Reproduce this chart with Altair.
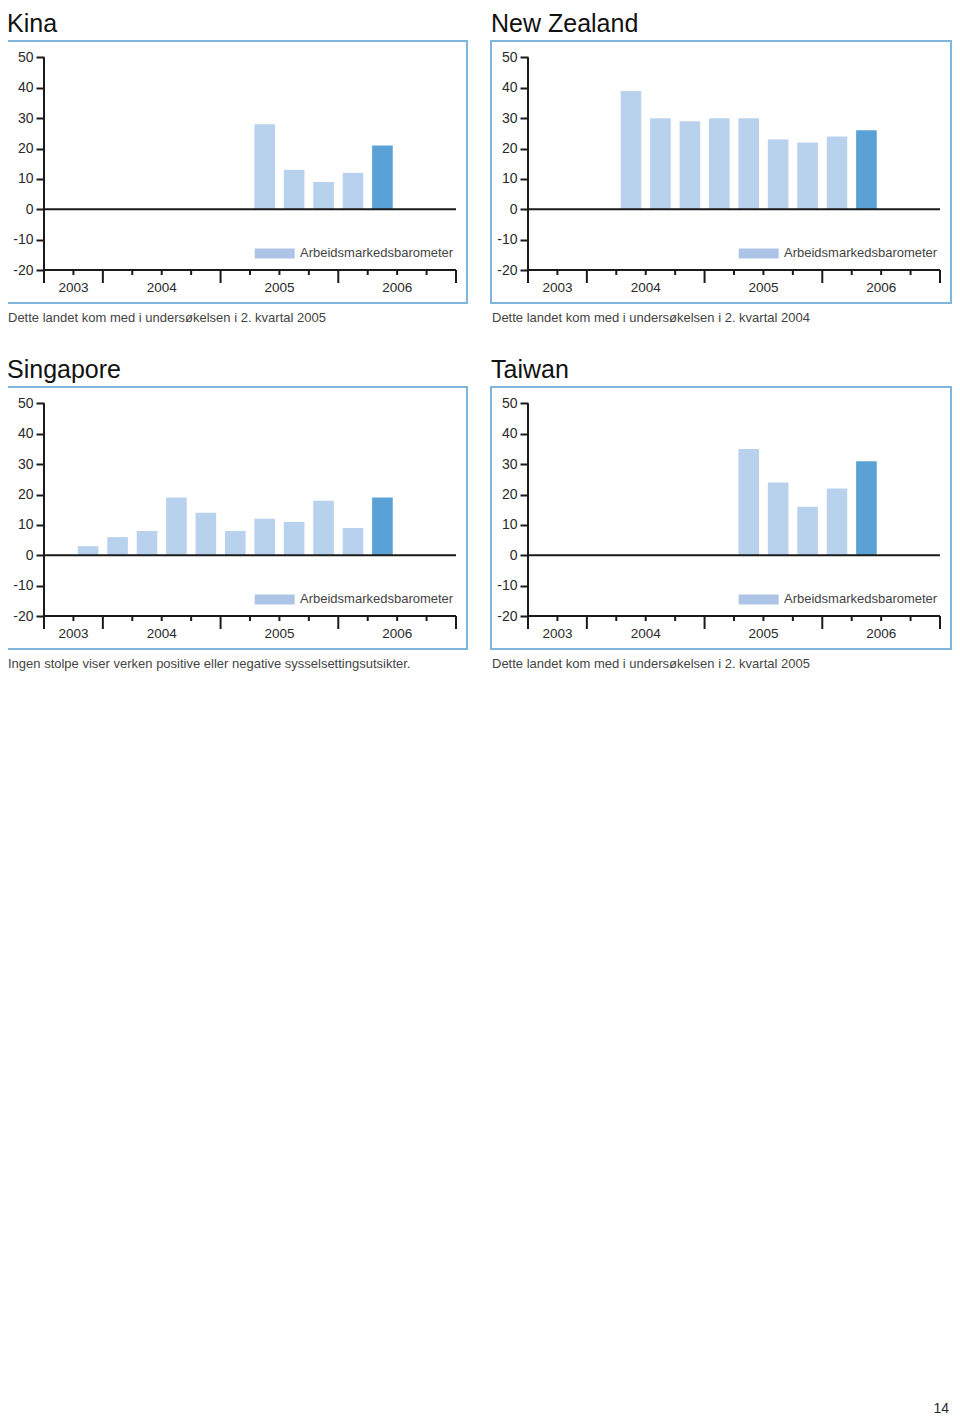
import altair as alt
import pandas as pd

# ---------------- data ----------------
QUARTERS = ["2003K3", "2003K4",
            "2004K1", "2004K2", "2004K3", "2004K4",
            "2005K1", "2005K2", "2005K3", "2005K4",
            "2006K1", "2006K2", "2006K3", "2006K4"]
YEARS = ["2003", "2004", "2005", "2006"]
Y_TICKS = [-20, -10, 0, 10, 20, 30, 40, 50]

kina_quarters = ["2005K2", "2005K3", "2005K4", "2006K1", "2006K2"]
kina_values = [28, 13, 9, 12, 21]

nz_quarters = ["2004K2", "2004K3", "2004K4", "2005K1", "2005K2",
               "2005K3", "2005K4", "2006K1", "2006K2"]
nz_values = [39, 30, 29, 30, 30, 23, 22, 24, 26]

sg_quarters = ["2003K4", "2004K1", "2004K2", "2004K3", "2004K4", "2005K1",
               "2005K2", "2005K3", "2005K4", "2006K1", "2006K2"]
sg_values = [3, 6, 8, 19, 14, 8, 12, 11, 18, 9, 19]

tw_quarters = ["2005K2", "2005K3", "2005K4", "2006K1", "2006K2"]
tw_values = [35, 24, 16, 22, 31]

kina_note = "Dette landet kom med i undersøkelsen i 2. kvartal 2005"
nz_note = "Dette landet kom med i undersøkelsen i 2. kvartal 2004"
sg_note = "Ingen stolpe viser verken positive eller negative sysselsettingsutsikter."
tw_note = "Dette landet kom med i undersøkelsen i 2. kvartal 2005"

LEGEND_LABEL = "Arbeidsmarkedsbarometer"
PAGE_NUMBER = "14"

# ---------------- style / layout ----------------
FONT = "Liberation Sans"
LIGHT = "#b8d2ee"
DARK = "#5aa1d6"
SWATCH = "#aec4e6"
BOX = "#80b6de"
AXIS = "#1a1a1a"
TXT = "#2a2a2a"
NOTE = "#444444"

W, H = 460, 262
AX_LEFT = 37.0       # px from box left to y axis
AX_RIGHT = W - 11.0  # px from box left to end of x axis
Y50 = 16.5           # px from box top to value 50
YM20 = 229.0         # px from box top to value -20

K = (YM20 - Y50) / 70.0
Y_MAX = 50 + Y50 / K
Y_MIN = -20 - (H - YM20) / K
Q = (AX_RIGHT - AX_LEFT) / len(QUARTERS)
X_MIN = -AX_LEFT / Q
X_MAX = len(QUARTERS) + (W - AX_RIGHT) / Q

xs = alt.Scale(domain=[X_MIN, X_MAX], nice=False, zero=False)
ys = alt.Scale(domain=[Y_MIN, Y_MAX], nice=False, zero=False)

Y_AXIS = alt.Axis(values=Y_TICKS, offset=-AX_LEFT, domain=False, grid=False, title=None,
                  tickSize=8, tickWidth=2, tickColor=AXIS,
                  labelFont=FONT, labelFontSize=14, labelColor=TXT,
                  labelPadding=3, labelOverlap=False, labelBound=False,
                  labelExpr="datum.value < 0 ? '-' + abs(datum.value) : '' + datum.value")

# axis helper tables built from the lists above
n = len(QUARTERS)
year_start = [QUARTERS.index(next(q for q in QUARTERS if q.startswith(y))) for y in YEARS]
year_end = year_start[1:] + [n]
major = year_start + [n]
minor = [i for i in range(1, n) if i not in major]
MAJOR_LEN = 13 / K
MINOR_LEN = 5 / K

lines = pd.DataFrame(
    [{"x": 0, "x2": n, "y": 0, "y2": 0},
     {"x": 0, "x2": n, "y": -20, "y2": -20},
     {"x": 0, "x2": 0, "y": 50, "y2": -20}]
    + [{"x": b, "x2": b, "y": -20, "y2": -20 - MAJOR_LEN} for b in major]
    + [{"x": b, "x2": b, "y": -20, "y2": -20 - MINOR_LEN} for b in minor]
)
years = pd.DataFrame({"aar": YEARS,
                      "pos": [(s + e) / 2 for s, e in zip(year_start, year_end)],
                      "ypos": [-20 - 17.5 / K] * len(YEARS)})


def panel(title, qs, vals, note, page=False):
    df = pd.DataFrame({"kvartal": qs, "verdi": vals})
    df["idx"] = [QUARTERS.index(q) for q in qs]
    df["type"] = ["Tidligere"] * (len(qs) - 1) + ["Siste"]

    bars = alt.Chart(df).transform_calculate(
        x0="datum.idx + 0.15", x1="datum.idx + 0.85"
    ).mark_bar().encode(
        x=alt.X("x0:Q", scale=xs, axis=None),
        x2="x1:Q",
        y=alt.Y("verdi:Q", scale=ys, axis=Y_AXIS),
        y2=alt.datum(0),
        color=alt.Color("type:N", legend=None,
                        scale=alt.Scale(domain=["Tidligere", "Siste"], range=[LIGHT, DARK])),
        tooltip=["kvartal:N", "verdi:Q"],
    )

    rules = alt.Chart(lines).mark_rule(color=AXIS, strokeWidth=2).encode(
        x=alt.X("x:Q", scale=xs, axis=None), x2="x2:Q",
        y=alt.Y("y:Q", scale=ys, axis=Y_AXIS), y2="y2:Q",
    )

    ylabels = alt.Chart(years).mark_text(
        font=FONT, fontSize=13.5, color=TXT, baseline="middle", align="center"
    ).encode(x=alt.X("pos:Q", scale=xs, axis=None),
             y=alt.Y("ypos:Q", scale=ys, axis=Y_AXIS), text="aar:N")

    leg = pd.DataFrame({"title": [title], "label": [LEGEND_LABEL], "note": [note],
                        "page": [PAGE_NUMBER]})
    titletext = alt.Chart(leg).mark_text(
        font=FONT, fontSize=25, color="#111111", align="left", baseline="alphabetic"
    ).encode(x=alt.value(0), y=alt.value(-9), text="title:N")
    swatch = alt.Chart(leg).mark_rect(color=SWATCH).encode(
        x=alt.value(247.7), x2=alt.value(287.7), y=alt.value(207.5), y2=alt.value(217.5))
    legtext = alt.Chart(leg).mark_text(
        font=FONT, fontSize=13, color=NOTE, align="left", baseline="middle"
    ).encode(x=alt.value(293), y=alt.value(212), text="label:N")
    notetext = alt.Chart(leg).mark_text(
        font=FONT, fontSize=13, color=NOTE, align="left", baseline="middle"
    ).encode(x=alt.value(1), y=alt.value(H + 14.5), text="note:N")

    layers = [bars, rules, ylabels, titletext, swatch, legtext, notetext]
    if page:
        pagetext = alt.Chart(leg).mark_text(
            font=FONT, fontSize=14, color=TXT, align="right", baseline="middle"
        ).encode(x=alt.value(W - 2), y=alt.value(1022), text="page:N")
        layers.append(pagetext)

    return alt.layer(*layers).properties(width=W, height=H)


chart = alt.concat(
    panel("Kina", kina_quarters, kina_values, kina_note),
    panel("New Zealand", nz_quarters, nz_values, nz_note),
    panel("Singapore", sg_quarters, sg_values, sg_note),
    panel("Taiwan", tw_quarters, tw_values, tw_note, page=True),
    columns=2,
    spacing={"row": 84, "column": 24},
    bounds="flush",
).properties(
    padding={"left": -2, "top": 3, "right": 0, "bottom": 0}
).configure_view(stroke=BOX, strokeWidth=2)

chart.save("out.html", embed_options={"renderer": "svg", "actions": False})
